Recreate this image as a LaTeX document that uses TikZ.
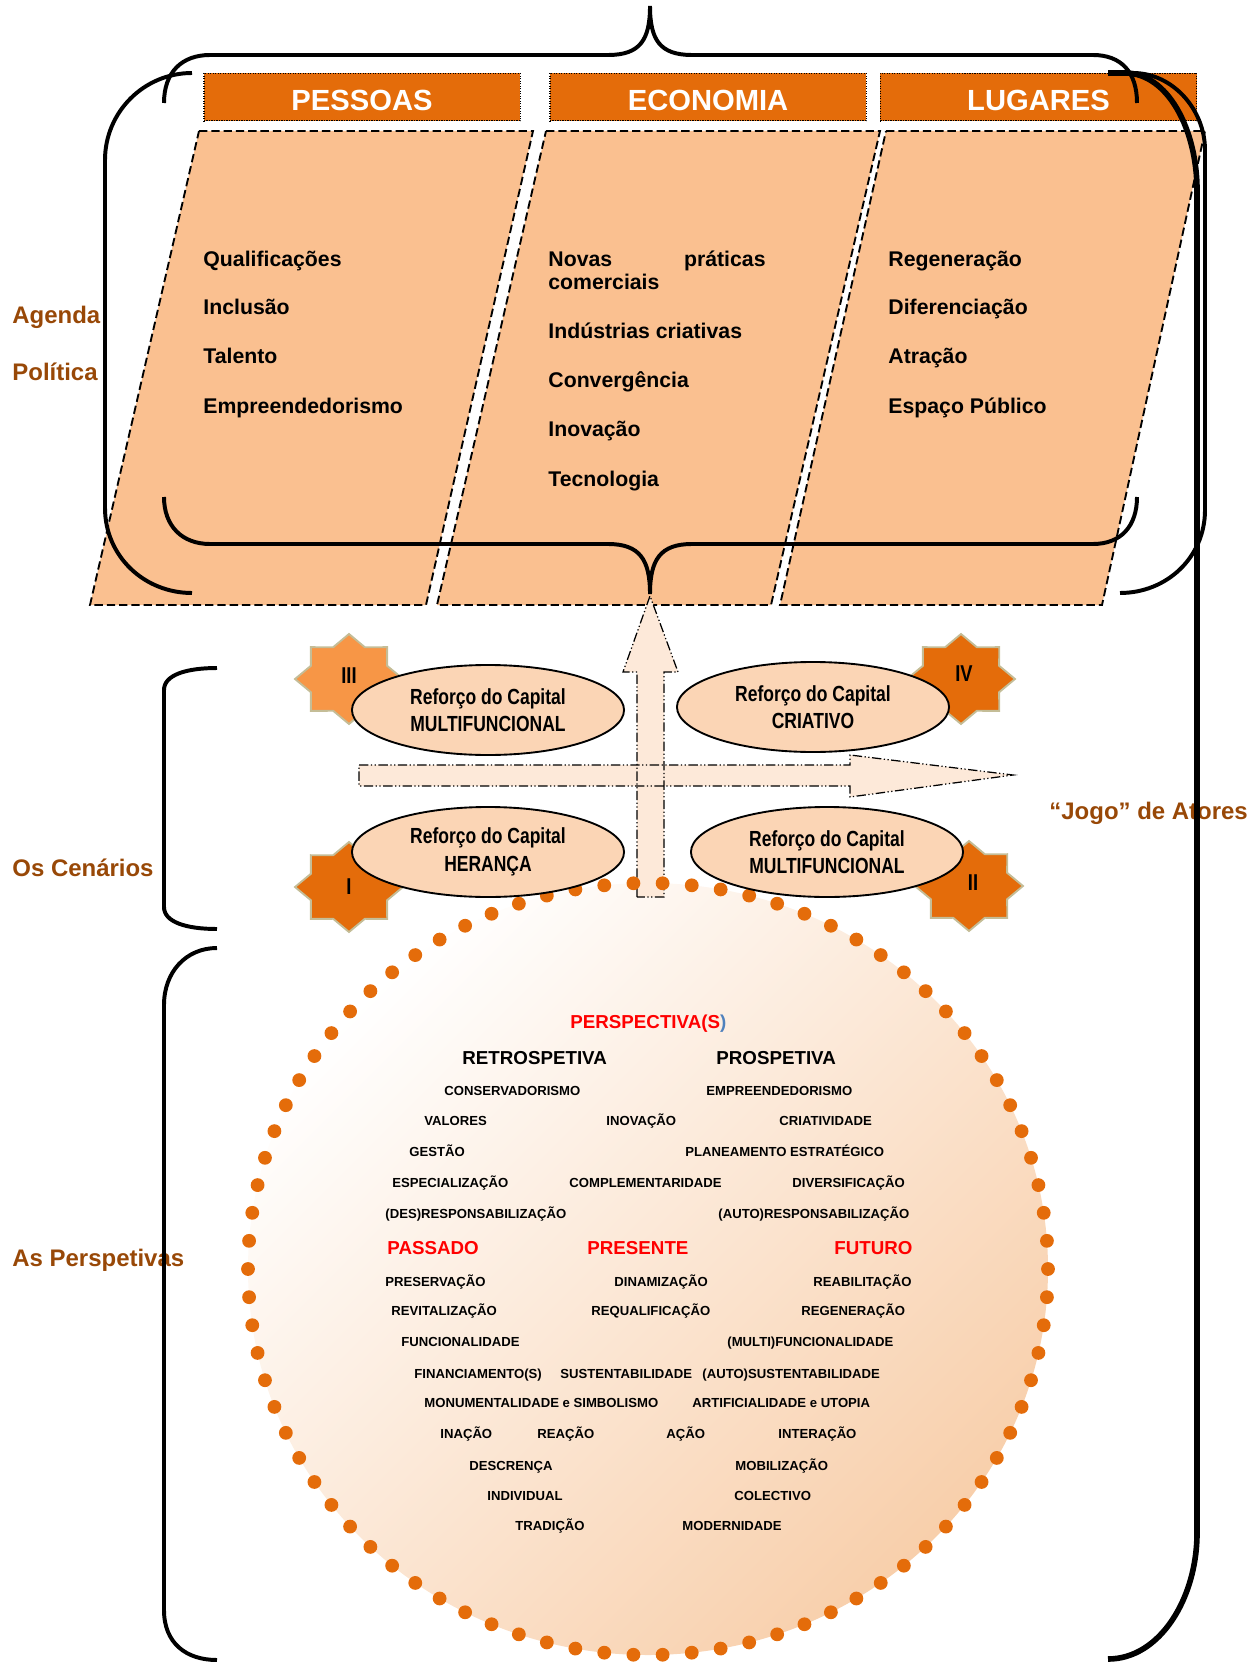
\documentclass[tikz,border=0pt]{standalone}
\usepackage{fontspec}
\setmainfont{Liberation Sans}
\newfontfamily\narrowfont{Liberation Sans}[FakeStretch=0.8]
\usetikzlibrary{shapes.geometric}

\definecolor{hdrfill}{HTML}{E46C0A}
\definecolor{panelfill}{HTML}{FAC090}
\definecolor{capfill}{HTML}{FBD5B5}
\definecolor{arrowfill}{HTML}{FDE9D9}
\definecolor{stardark}{HTML}{E46C0A}
\definecolor{starlight}{HTML}{F79646}
\definecolor{starline}{HTML}{C4BD97}
\definecolor{labelbrown}{HTML}{984807}
\definecolor{dotorange}{HTML}{E46C0A}
\definecolor{peachend}{HTML}{F8CFAB}
\definecolor{redtxt}{HTML}{FF0000}
\definecolor{bluetxt}{HTML}{4F81BD}

% eight-point star: centre x, centre y, fill colour
\newcommand\octostar[3]{%
  \draw[starline, line width=0.9pt, fill=#3]
    plot[samples at={0,22.5,...,337.5}, variable=\t]
    ({#1+54*cos(\t)*ifthenelse(mod(\t,45)<1,1,0.765)},
     {#2+45*sin(\t)*ifthenelse(mod(\t,45)<1,1,0.765)}) -- cycle;}

\begin{document}
\begin{tikzpicture}[x=0.48pt, y=-0.48pt,
  panel/.style={fill=panelfill, draw=black, line width=0.9pt, dash pattern=on 4pt off 1.9pt},
  header/.style={rectangle, fill=hdrfill, draw=black, line width=0.5pt,
    dash pattern=on 0.6pt off 0.6pt, minimum width=151.7pt, minimum height=23pt,
    inner sep=0pt, text=white, font=\bfseries\fontsize{14}{16}\selectfont,
    text height=13.4pt, text depth=0pt},
  ptxt/.style={anchor=base west, inner sep=0pt, yshift=-3.65pt,
    font=\bfseries\fontsize{10.2}{12}\selectfont},
  sidelbl/.style={anchor=base west, inner sep=0pt, yshift=-4.12pt, text=labelbrown,
    font=\bfseries\fontsize{11.5}{13}\selectfont},
  wtxt/.style={anchor=base west, inner sep=0pt, yshift=-2.26pt,
    font=\bfseries\fontsize{6.3}{7}\selectfont},
  htxt/.style={anchor=base west, inner sep=0pt, yshift=-3.22pt,
    font=\bfseries\fontsize{9}{10}\selectfont},
  redtxt/.style={htxt, text=redtxt},
  capsule/.style={ellipse, draw=black, line width=0.9pt, fill=capfill,
    minimum width=130.6pt, minimum height=43.2pt, inner sep=0pt, align=center,
    font=\narrowfont\bfseries\fontsize{10.5}{13.2}\selectfont},
  numeral/.style={anchor=base, inner sep=0pt, yshift=-3.94pt,
    font=\narrowfont\bfseries\fontsize{11}{12}\selectfont},
  flowline/.style={draw=black, line width=0.6pt,
    dash pattern=on 4.5pt off 1.2pt on 0.6pt off 1.2pt on 0.6pt off 1.2pt},
  brace/.style={draw=black, line width=1.9pt},
  bigbrace/.style={draw=black, line width=2.7pt}
]
\useasboundingbox (0,0) rectangle (1254,1662);

% ---------- the three columns ----------
\draw[panel] (199,131) -- (533,131) -- (426,605) -- (90,605) -- cycle;
\draw[panel] (546,131) -- (880,131) -- (771,605) -- (437,605) -- cycle;
\draw[panel] (886,131) -- (1205,131) -- (1102,605) -- (780,605) -- cycle;

\node[header] (pessoas) at (362,97) {PESSOAS};
\node[header] (economia) at (708,97) {ECONOMIA};
\node[header] (lugares) at (1038.5,97) {LUGARES};

\node[ptxt] (p1) at (203,259) {Qualificações};
\node[ptxt] (p2) at (203,307) {Inclusão};
\node[ptxt] (p3) at (203,356) {Talento};
\node[ptxt] (p4) at (203,406) {Empreendedorismo};

\node[ptxt] (e1a) at (548,259) {Novas};
\node[ptxt, anchor=base east] (e1b) at (766,259) {práticas};
\node[ptxt] (e1c) at (548,282) {comerciais};
\node[ptxt] (e2) at (548,331) {Indústrias criativas};
\node[ptxt] (e3) at (548,380) {Convergência};
\node[ptxt] (e4) at (548,429) {Inovação};
\node[ptxt] (e5) at (548,479) {Tecnologia};

\node[ptxt] (l1) at (888,259) {Regeneração};
\node[ptxt] (l2) at (888,307) {Diferenciação};
\node[ptxt] (l3) at (888,356) {Atração};
\node[ptxt] (l4) at (888,406) {Espaço Público};

% ---------- perspectives disc ----------
\shade[top color=white, bottom color=peachend, shading angle=45]
  (648,1269) ellipse [x radius=400, y radius=386];

% ---------- axes arrows ----------
\fill[arrowfill] (359,765) -- (850,765) -- (850,755) -- (1013,775) -- (850,797) -- (850,786) -- (359,786) -- cycle;
\fill[arrowfill] (637,897) -- (637,672) -- (623,672) -- (650,596) -- (678,672) -- (664,672) -- (664,897) -- cycle;
\draw[flowline] (359,765) -- (850,765) -- (850,755) -- (1013,775) -- (850,797) -- (850,786) -- (359,786) -- cycle;
\draw[flowline] (637,897) -- (637,672) -- (623,672) -- (650,596) -- (678,672) -- (664,672) -- (664,897) -- cycle;

\foreach \k in {0,...,85}
  \fill[dotorange] ({648+400*cos(4.186047*\k)}, {1269+386*sin(4.186047*\k)}) circle [radius=6.9];

% ---------- scenarios ----------
\octostar{349}{679}{starlight}
\octostar{961}{679}{stardark}
\octostar{349}{887}{stardark}
\octostar{969}{886}{stardark}

\node[capsule] (c3) at (488,710) {Reforço do Capital\\MULTIFUNCIONAL};
\node[capsule] (c4) at (813,707) {Reforço do Capital\\CRIATIVO};
\node[capsule] (c1) at (488,852) {Reforço do Capital\\HERANÇA};
\node[capsule] (c2) at (827,852) {Reforço do Capital\\MULTIFUNCIONAL};

\node[numeral] (n3) at (349,675) {III};
\node[numeral] (n4) at (964,673) {IV};
\node[numeral] (n1) at (349,886) {I};
\node[numeral] (n2) at (973,882) {II};

% ---------- words inside the disc ----------
\node[htxt] (ttl) at (570,1022) {{\color{redtxt}PERSPECTIVA(S}{\color{bluetxt})}};
\node[htxt] (retro) at (462,1058) {RETROSPETIVA};
\node[htxt] (prosp) at (716,1058) {PROSPETIVA};

\node[wtxt] (w01) at (444,1091) {CONSERVADORISMO};
\node[wtxt] (w02) at (706,1091) {EMPREENDEDORISMO};
\node[wtxt] (w03) at (424,1121) {VALORES};
\node[wtxt] (w04) at (606,1121) {INOVAÇÃO};
\node[wtxt] (w05) at (779,1121) {CRIATIVIDADE};
\node[wtxt] (w06) at (409,1152) {GESTÃO};
\node[wtxt] (w07) at (685,1152) {PLANEAMENTO ESTRATÉGICO};
\node[wtxt] (w08) at (392,1183) {ESPECIALIZAÇÃO};
\node[wtxt] (w09) at (569,1183) {COMPLEMENTARIDADE};
\node[wtxt] (w10) at (792,1183) {DIVERSIFICAÇÃO};
\node[wtxt] (w11) at (385,1214) {(DES)RESPONSABILIZAÇÃO};
\node[wtxt] (w12) at (718,1214) {(AUTO)RESPONSABILIZAÇÃO};

\node[redtxt] (past) at (387,1248) {PASSADO};
\node[redtxt] (pres) at (587,1248) {PRESENTE};
\node[redtxt] (fut) at (834,1248) {FUTURO};

\node[wtxt] (w13) at (385,1282) {PRESERVAÇÃO};
\node[wtxt] (w14) at (614,1282) {DINAMIZAÇÃO};
\node[wtxt] (w15) at (813,1282) {REABILITAÇÃO};
\node[wtxt] (w16) at (391,1311) {REVITALIZAÇÃO};
\node[wtxt] (w17) at (591,1311) {REQUALIFICAÇÃO};
\node[wtxt] (w18) at (801,1311) {REGENERAÇÃO};
\node[wtxt] (w19) at (401,1342) {FUNCIONALIDADE};
\node[wtxt] (w20) at (727,1342) {(MULTI)FUNCIONALIDADE};
\node[wtxt] (w21) at (414,1374) {FINANCIAMENTO(S)};
\node[wtxt] (w22) at (560,1374) {SUSTENTABILIDADE};
\node[wtxt] (w23) at (702,1374) {(AUTO)SUSTENTABILIDADE};
\node[wtxt] (w24) at (424,1403) {MONUMENTALIDADE e SIMBOLISMO};
\node[wtxt] (w25) at (692,1403) {ARTIFICIALIDADE e UTOPIA};
\node[wtxt] (w26) at (440,1434) {INAÇÃO};
\node[wtxt] (w27) at (537,1434) {REAÇÃO};
\node[wtxt] (w28) at (666,1434) {AÇÃO};
\node[wtxt] (w29) at (778,1434) {INTERAÇÃO};
\node[wtxt] (w30) at (469,1466) {DESCRENÇA};
\node[wtxt] (w31) at (735,1466) {MOBILIZAÇÃO};
\node[wtxt] (w32) at (487,1496) {INDIVIDUAL};
\node[wtxt] (w33) at (734,1496) {COLECTIVO};
\node[wtxt] (w34) at (515,1526) {TRADIÇÃO};
\node[wtxt] (w35) at (682,1526) {MODERNIDADE};

% ---------- side labels ----------
\node[sidelbl] (agenda) at (12,315) {Agenda};
\node[sidelbl] (politica) at (12,372) {Política};
\node[sidelbl] (cenarios) at (12,868) {Os Cenários};
\node[sidelbl] (perspetivas) at (12,1258) {As Perspetivas};
\node[sidelbl] (jogo) at (1049,811) {“Jogo” de Atores};

% ---------- braces and brackets ----------
% upper brace over the three columns
\draw[brace] (164,103) .. controls (164,72) and (182,55) .. (210,55) -- (608,55)
  .. controls (640,55) and (650,40) .. (650,6)
  .. controls (650,40) and (660,55) .. (692,55) -- (1093,55)
  .. controls (1121,55) and (1137,72) .. (1137,103);
% lower brace under the three columns
\draw[brace] (164,497) .. controls (164,526) and (182,544) .. (210,544) -- (608,544)
  .. controls (640,544) and (650,560) .. (650,594)
  .. controls (650,560) and (660,544) .. (692,544) -- (1093,544)
  .. controls (1121,544) and (1137,526) .. (1137,497);
% round brackets around the agenda
\draw[brace] (192,73) .. controls (144,73) and (105,112) .. (105,160) -- (105,508)
  .. controls (105,556) and (144,593) .. (192,593);
\draw[brace] (1133,73) .. controls (1173,73) and (1205,110) .. (1205,150) -- (1205,510)
  .. controls (1205,557) and (1167,593) .. (1120,593);
% tall bracket on the right
\draw[bigbrace] (1108,73) -- (1125,73) .. controls (1168,73) and (1197,130) .. (1197,190)
  -- (1197,1533) .. controls (1197,1598) and (1160,1659) .. (1108,1659);
% left brackets of the scenarios and perspectives
\draw[brace] (217,668) .. controls (186,668) and (164,675) .. (164,690) -- (164,907)
  .. controls (164,922) and (186,929) .. (217,929);
\draw[brace] (217,948) .. controls (186,948) and (164,972) .. (164,1005) -- (164,1610)
  .. controls (164,1643) and (186,1660) .. (217,1660);
\end{tikzpicture}
\end{document}
